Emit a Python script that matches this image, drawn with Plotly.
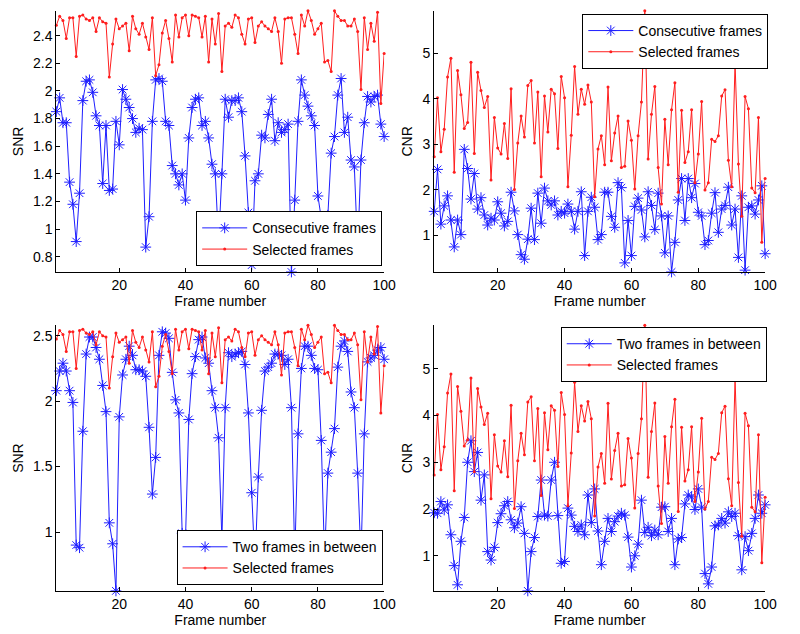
import plotly.graph_objects as go

frames = list(range(1, 101))

snr_consecutive = [
    1.85, 1.95, 1.77, 1.77, 1.34, 1.18, 0.91, 1.26, 1.93, 2.07,
    2.08, 1.99, 1.82, 1.75, 1.33, 1.75, 1.28, 1.29, 1.78, 1.61,
    2.01, 1.94, 1.88, 1.80, 1.70, 1.73, 1.72, 0.87, 1.09, 1.78,
    2.08, 2.09, 2.07, 1.78, 1.75, 1.46, 1.40, 1.32, 1.40, 1.21,
    1.66, 1.88, 1.94, 1.95, 1.75, 1.78, 1.66, 1.47, 1.40, 0.90,
    1.40, 1.94, 1.81, 1.93, 1.93, 1.95, 1.85, 1.53, 1.12, 0.74,
    1.35, 1.40, 1.68, 1.66, 1.83, 1.94, 1.64, 1.77, 1.70, 1.72,
    1.76, 0.69, 1.21, 1.78, 2.08, 1.97, 1.89, 1.82, 1.75, 1.24,
    1.07, 0.92, 1.10, 1.55, 1.67, 1.97, 2.09, 1.70, 1.81, 1.50,
    1.45, 0.85, 1.50, 1.77, 1.96, 1.92, 1.96, 1.97, 1.76, 1.67,
]

snr_selected = [
    2.475, 2.54, 2.51, 2.38, 2.53, 2.53, 2.25, 2.54, 2.55, 2.52,
    2.51, 2.53, 2.43, 2.53, 2.50, 2.49, 2.10, 2.34, 2.52, 2.45,
    2.47, 2.49, 2.29, 2.54, 2.45, 2.41, 2.49, 2.39, 2.30, 2.53,
    2.11, 2.19, 2.42, 2.51, 2.38, 2.21, 2.55, 2.39, 2.53, 2.55,
    2.40, 2.55, 2.54, 2.53, 2.39, 2.54, 2.21, 2.52, 2.34, 2.56,
    2.14, 2.47, 2.49, 2.46, 2.55, 2.53, 2.41, 2.34, 2.52, 2.53,
    2.35, 2.47, 2.50, 2.47, 2.45, 2.43, 2.53, 2.43, 2.20, 2.52,
    2.53, 2.53, 2.41, 2.27, 2.55, 2.47, 2.58, 2.51, 2.41, 2.45,
    2.49, 2.21, 2.22, 2.14, 2.58, 2.54, 2.51, 2.51, 2.47, 2.47,
    2.52, 2.43, 2.01, 2.53, 2.30, 2.49, 2.36, 2.57, 1.91, 2.27,
]

cnr_consecutive = [
    1.53, 2.45, 1.25, 1.65, 1.87, 1.34, 0.75, 1.34, 1.02, 2.89,
    2.47, 1.80, 2.36, 1.58, 1.83, 1.45, 1.23, 1.38, 1.34, 1.74,
    1.49, 1.21, 1.31, 1.95, 1.54, 1.02, 0.58, 0.48, 0.92, 1.60,
    0.91, 1.93, 1.27, 2.04, 1.76, 1.67, 1.76, 1.45, 1.53, 1.49,
    1.69, 1.53, 1.14, 1.53, 1.96, 0.56, 1.53, 1.84, 1.62, 0.91,
    1.02, 1.95, 1.95, 1.42, 1.18, 2.16, 2.05, 0.40, 1.33, 0.56,
    1.64, 1.82, 1.56, 0.97, 1.96, 1.66, 1.13, 1.93, 1.43, 0.62,
    1.43, 0.20, 0.85, 1.78, 2.25, 1.33, 2.25, 1.83, 2.14, 1.51,
    1.43, 0.80, 0.89, 1.49, 1.94, 1.07, 1.58, 1.66, 2.06, 1.23,
    1.58, 0.52, 1.87, 0.24, 1.62, 1.65, 1.47, 1.78, 2.09, 0.60,
]

cnr_selected = [
    2.73, 4.02, 2.84, 3.33, 4.48, 4.89, 2.39, 4.62, 4.09, 3.35,
    3.48, 4.80, 2.80, 4.58, 4.18, 3.81, 4.05, 2.22, 3.59, 2.92,
    2.79, 3.46, 2.69, 4.22, 2.01, 3.03, 3.62, 3.16, 4.29, 4.40,
    3.03, 4.15, 2.29, 4.06, 3.27, 4.21, 4.11, 2.91, 4.49, 4.02,
    2.07, 3.20, 4.71, 3.66, 4.21, 3.88, 4.30, 3.93, 1.85, 2.90,
    3.19, 2.55, 4.26, 2.64, 3.25, 3.62, 2.49, 2.52, 3.51, 3.09,
    2.02, 3.19, 3.93, 5.93, 2.68, 3.66, 4.27, 2.49, 1.69, 3.55,
    2.55, 3.76, 4.35, 1.95, 3.75, 2.60, 2.84, 3.76, 2.16, 2.79,
    3.94, 2.00, 2.16, 3.11, 3.06, 3.19, 4.06, 4.20, 2.65, 2.07,
    4.78, 2.57, 1.42, 4.05, 3.78, 2.04, 1.94, 3.59, 0.85, 2.25,
]

snr_two_between = [
    2.08, 2.23, 2.29, 2.23, 2.08, 1.99, 0.90, 0.88, 1.77, 2.36,
    2.49, 2.49, 2.41, 2.32, 2.12, 1.92, 1.07, 0.91, 0.55, 1.88,
    2.20, 2.32, 2.42, 2.35, 2.24, 2.24, 2.23, 2.19, 1.80, 1.29,
    1.57, 2.35, 2.53, 2.52, 2.48, 2.22, 2.01, 1.91, 0.99, 0.94,
    1.86, 2.21, 2.34, 2.47, 2.49, 2.33, 2.29, 2.08, 1.95, 1.72,
    0.94, 1.95, 2.37, 2.34, 2.36, 2.37, 2.38, 2.28, 1.91, 1.30,
    0.75, 1.42, 1.93, 2.23, 2.26, 2.29, 2.36, 2.36, 2.35, 2.28,
    2.32, 1.95, 0.80, 1.75, 2.25, 2.42, 2.42, 2.35, 2.25, 2.24,
    1.70, 0.80, 1.45, 1.61, 1.79, 2.26, 2.42, 2.46, 2.38, 2.07,
    1.95, 1.45, 0.80, 1.75, 2.30, 2.33, 2.35, 2.39, 2.41, 2.32,
]

cnr_two_between = [
    1.92, 1.91, 2.16, 1.98, 2.09, 1.45, 0.79, 0.38, 1.31, 1.82,
    3.00, 3.46, 2.80, 3.21, 2.19, 2.73, 1.09, 0.91, 1.18, 1.71,
    1.90, 2.07, 2.16, 1.77, 1.60, 1.70, 2.05, 1.48, 0.25, 1.09,
    1.39, 1.84, 2.62, 1.87, 1.85, 2.62, 3.00, 1.86, 0.84, 0.88,
    2.02, 1.87, 1.63, 1.52, 1.66, 1.45, 2.30, 1.71, 2.43, 1.53,
    0.81, 1.31, 1.80, 1.52, 1.73, 1.85, 1.91, 1.87, 1.40, 0.76,
    1.00, 1.25, 2.19, 1.50, 1.61, 1.43, 1.55, 1.45, 2.04, 2.05,
    1.52, 1.80, 0.81, 1.36, 1.39, 2.11, 2.30, 2.26, 1.99, 2.43,
    2.04, 0.62, 0.40, 0.76, 1.64, 1.66, 1.80, 1.70, 1.94, 1.84,
    1.91, 1.43, 0.70, 1.41, 1.11, 1.48, 1.80, 2.30, 1.91, 2.09,
]

FONT = "Liberation Sans, Arial, sans-serif"
BLUE = "rgb(30,30,255)"
RED = "rgb(255,30,30)"

# (blue series, blue name, red series, y title, y ticks, axis suffix, legend id)
panels = [
    (snr_consecutive, "Consecutive frames", snr_selected, "SNR",
     [0.8, 1, 1.2, 1.4, 1.6, 1.8, 2, 2.2, 2.4], "", "legend"),
    (cnr_consecutive, "Consecutive frames", cnr_selected, "CNR",
     [1, 2, 3, 4, 5], "2", "legend2"),
    (snr_two_between, "Two frames in between", snr_selected, "SNR",
     [1, 1.5, 2, 2.5], "3", "legend3"),
    (cnr_two_between, "Two frames in between", cnr_selected, "CNR",
     [1, 2, 3, 4, 5], "4", "legend4"),
]

x_domains = [[0.0715, 0.4875], [0.551, 0.971]]
y_domains = [[0.571, 0.983], [0.068, 0.487]]

fig = go.Figure()

for i, (blue, blue_name, red, ytitle, yticks, sfx, leg) in enumerate(panels):
    xa = "x" + sfx
    ya = "y" + sfx
    fig.add_trace(go.Scatter(
        x=frames, y=blue, name=blue_name, mode="lines+markers",
        line=dict(color=BLUE, width=1),
        marker=dict(symbol="asterisk-open", size=9, line=dict(color=BLUE, width=1)),
        xaxis=xa, yaxis=ya, legend=leg, cliponaxis=False))
    fig.add_trace(go.Scatter(
        x=frames, y=red, name="Selected frames", mode="lines+markers",
        line=dict(color=RED, width=1),
        marker=dict(symbol="circle", size=3, color=RED),
        xaxis=xa, yaxis=ya, legend=leg, cliponaxis=False))

    lo = min(min(blue), min(red))
    hi = max(max(blue), max(red))
    row, col = divmod(i, 2)
    axis_common = dict(showline=True, linecolor="black", linewidth=1,
                       ticks="inside", ticklen=4, tickcolor="black",
                       showgrid=False, zeroline=False, mirror=False,
                       tickfont=dict(family=FONT, size=14, color="black"))
    fig.update_layout({
        "xaxis" + sfx: dict(domain=x_domains[col], anchor=ya, range=[1, 100],
                            tickvals=[20, 40, 60, 80, 100],
                            title=dict(text="Frame number", standoff=0,
                                       font=dict(family=FONT, size=14, color="black")),
                            **axis_common),
        "yaxis" + sfx: dict(domain=y_domains[row], anchor=xa, range=[lo, hi],
                            tickvals=yticks,
                            title=dict(text=ytitle, standoff=6,
                                       font=dict(family=FONT, size=14, color="black")),
                            **axis_common),
    })

legend_style = dict(bgcolor="white", bordercolor="black", borderwidth=1,
                    font=dict(family=FONT, size=14, color="black"),
                    itemwidth=45, tracegroupgap=0)
fig.update_layout(
    legend=dict(x=0.485, y=0.58, xanchor="right", yanchor="bottom", **legend_style),
    legend2=dict(x=0.975, y=0.978, xanchor="right", yanchor="top", **legend_style),
    legend3=dict(x=0.4855, y=0.077, xanchor="right", yanchor="bottom", **legend_style),
    legend4=dict(x=0.973, y=0.484, xanchor="right", yanchor="top", **legend_style),
    width=800, height=634,
    margin=dict(l=0, r=0, t=0, b=0),
    paper_bgcolor="white", plot_bgcolor="white",
    font=dict(family=FONT, size=14, color="black"),
)

# the page body has a default margin; drop it so the figure sits at (0, 0)
fig.write_html("out.html", config={"displayModeBar": False},
               post_script="document.body.style.margin='0px';")
